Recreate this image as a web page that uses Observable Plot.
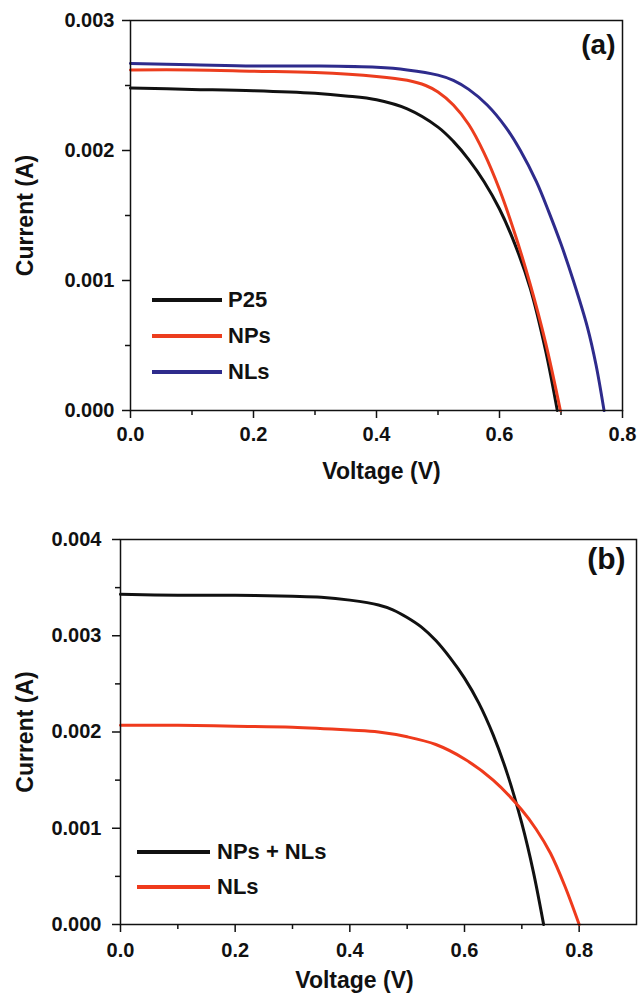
<!DOCTYPE html>
<html>
<head>
<meta charset="utf-8">
<script src="https://cdn.jsdelivr.net/npm/d3@7"></script>
<script src="https://cdn.jsdelivr.net/npm/@observablehq/plot@0.6"></script>
<style>
  html, body { margin: 0; padding: 0; background: #fff; }
  #wrap { position: relative; width: 638px; height: 993px; font-family: 'Liberation Sans', Arial, Helvetica, sans-serif; color: #111; }
  .panel { position: absolute; left: 0; }
  .legend { position: absolute; font-weight: bold; font-size: 22px; }
  .legend .row { display: flex; align-items: center; }
  .legend .sw { display: inline-block; height: 4px; }
</style>
</head>
<body>
<div id="wrap">
  <div id="pa" class="panel" style="top:0"></div>
  <div id="pb" class="panel" style="top:500px"></div>
</div>
<script>
// ---------- Panel (a) data ----------
const voltP25 = [0, 0.1, 0.2, 0.3, 0.35, 0.4, 0.45, 0.5, 0.525, 0.55, 0.575, 0.6, 0.625, 0.65, 0.675, 0.694];
const currP25 = [0.00248, 0.00247, 0.00246, 0.00244, 0.00242, 0.00239, 0.00232, 0.00218, 0.00207, 0.00193, 0.00176, 0.00155, 0.00128, 0.00094, 0.00046, 0];

const voltNPs = [0, 0.1, 0.2, 0.3, 0.4, 0.45, 0.48, 0.5, 0.525, 0.55, 0.575, 0.6, 0.625, 0.65, 0.675, 0.699];
const currNPs = [0.00262, 0.00262, 0.00261, 0.0026, 0.00257, 0.00254, 0.0025, 0.00245, 0.00235, 0.0022, 0.00198, 0.0017, 0.00136, 0.00097, 0.00052, 0];

const voltNLsA = [0, 0.1, 0.2, 0.3, 0.4, 0.45, 0.5, 0.525, 0.55, 0.58, 0.61, 0.634, 0.66, 0.68, 0.7, 0.72, 0.743, 0.757, 0.77];
const currNLsA = [0.00267, 0.00266, 0.00265, 0.00265, 0.00264, 0.00262, 0.00258, 0.00254, 0.00247, 0.00235, 0.00218, 0.002, 0.00176, 0.00153, 0.00128, 0.001, 0.00064, 0.00035, 0];

// ---------- Panel (b) data ----------
const voltMix = [0, 0.1, 0.2, 0.3, 0.35, 0.4, 0.45, 0.475, 0.5, 0.525, 0.55, 0.575, 0.6, 0.625, 0.65, 0.675, 0.7, 0.72, 0.738];
const currMix = [0.00343, 0.00342, 0.00342, 0.00341, 0.0034, 0.00337, 0.00332, 0.00327, 0.00319, 0.00309, 0.00295, 0.00277, 0.00256, 0.0023, 0.00197, 0.00156, 0.00105, 0.00055, 0];

const voltNLsB = [0, 0.1, 0.2, 0.3, 0.4, 0.45, 0.5, 0.55, 0.6, 0.65, 0.7, 0.725, 0.75, 0.775, 0.8];
const currNLsB = [0.00207, 0.00207, 0.00206, 0.00205, 0.00202, 0.002, 0.00195, 0.00187, 0.00172, 0.0015, 0.00119, 0.00099, 0.00074, 0.0004, 0];

// ---------- ticks, labels, colours ----------
const xTicksA = [0, 0.2, 0.4, 0.6, 0.8];
const xMinorA = [0.1, 0.3, 0.5, 0.7];
const yTicksA = [0, 0.001, 0.002, 0.003];
const yMinorA = [0.0005, 0.0015, 0.0025];
const xTicksB = [0, 0.2, 0.4, 0.6, 0.8];
const xMinorB = [0.1, 0.3, 0.5, 0.7];
const yTicksB = [0, 0.001, 0.002, 0.003, 0.004];
const yMinorB = [0.0005, 0.0015, 0.0025, 0.0035];

const namesA = ["P25", "NPs", "NLs"];
const colorsA = ["#111111", "#ec3d1e", "#2e2b8c"];
const namesB = ["NPs + NLs", "NLs"];
const colorsB = ["#111111", "#ef3a1c"];

const xLabel = "Voltage (V)";
const yLabel = "Current (A)";

const FONT = "'Liberation Sans', Arial, Helvetica, sans-serif";

function toRows(name, volts, currs) {
  return volts.map((v, i) => ({series: name, V: v, I: currs[i]}));
}

const dataA = [
  ...toRows("P25", voltP25, currP25),
  ...toRows("NPs", voltNPs, currNPs),
  ...toRows("NLs", voltNLsA, currNLsA)
];
const dataB = [
  ...toRows("NPs + NLs", voltMix, currMix),
  ...toRows("NLs", voltNLsB, currNLsB)
];

function makePanel(cfg) {
  return Plot.plot({
    width: 638,
    height: cfg.height,
    marginLeft: cfg.ml,
    marginRight: cfg.mr,
    marginTop: cfg.mt,
    marginBottom: cfg.mb,
    style: {fontFamily: FONT, fontWeight: "bold", color: "#111", background: "#fff", overflow: "visible"},
    x: {domain: cfg.xDomain},
    y: {domain: cfg.yDomain},
    color: {domain: cfg.names, range: cfg.colors},
    marks: [
      Plot.axisX(cfg.xMinor, {tickSize: 5, text: null, label: null, strokeWidth: 1.5}),
      Plot.axisY(cfg.yMinor, {tickSize: 5, text: null, label: null, strokeWidth: 1.5}),
      Plot.axisX(cfg.xTicks, {tickSize: 8, tickPadding: cfg.xPad, tickFormat: d3.format(".1f"), fontSize: 20, fontWeight: "bold", label: null, strokeWidth: 1.5}),
      Plot.axisY(cfg.yTicks, {tickSize: 8, tickPadding: cfg.yPad, tickFormat: d3.format(".3f"), fontSize: 20, fontWeight: "bold", label: null, strokeWidth: 1.5}),
      Plot.line(cfg.data, {x: "V", y: "I", z: "series", stroke: "series", strokeWidth: 3, curve: "catmull-rom"}),
      Plot.frame({stroke: "#111", strokeWidth: 1.5}),
      Plot.text([cfg.tag], {frameAnchor: "top-right", textAnchor: "end", lineAnchor: "top", dx: cfg.tagDx, dy: cfg.tagDy, fontSize: cfg.tagSize, fontWeight: "bold", fill: "#111"}),
      Plot.text([xLabel], {frameAnchor: "bottom", lineAnchor: "middle", dx: cfg.xlDx, dy: cfg.xlDy, fontSize: 23, fontWeight: "bold", fill: "#111"}),
      Plot.text([yLabel], {frameAnchor: "left", rotate: -90, lineAnchor: "middle", textAnchor: "middle", dx: cfg.ylDx, fontSize: 23, fontWeight: "bold", fill: "#111"})
    ]
  });
}

document.getElementById("pa").appendChild(makePanel({
  height: 500, ml: 130, mr: 16, mt: 20, mb: 90,
  xDomain: [0, 0.8], yDomain: [0, 0.003],
  xTicks: xTicksA, xMinor: xMinorA, yTicks: yTicksA, yMinor: yMinorA,
  xPad: 8, yPad: 8,
  names: namesA, colors: colorsA, data: dataA,
  tag: "(a)", tagDx: -7, tagDy: 14, tagSize: 28,
  xlDx: 5, xlDy: 61, ylDx: -105
}));

document.getElementById("pb").appendChild(makePanel({
  height: 493, ml: 120, mr: 2, mt: 39, mb: 69,
  xDomain: [0, 0.9], yDomain: [0, 0.004],
  xTicks: xTicksB, xMinor: xMinorB, yTicks: yTicksB, yMinor: yMinorB,
  xPad: 10, yPad: 11,
  names: namesB, colors: colorsB, data: dataB,
  tag: "(b)", tagDx: -11, tagDy: 8, tagSize: 30,
  xlDx: -24, xlDy: 56, ylDx: -95
}));

// ---------- legends (HTML overlays) ----------
function addLegend(names, colors, left, top, rowH, swW, gap) {
  const lg = document.createElement("div");
  lg.className = "legend";
  lg.style.left = left + "px";
  lg.style.top = top + "px";
  names.forEach((n, i) => {
    const row = document.createElement("div");
    row.className = "row";
    row.style.height = rowH + "px";
    const sw = document.createElement("span");
    sw.className = "sw";
    sw.style.width = swW + "px";
    sw.style.background = colors[i];
    sw.style.marginRight = gap + "px";
    const t = document.createElement("span");
    t.textContent = n;
    row.appendChild(sw);
    row.appendChild(t);
    lg.appendChild(row);
  });
  document.getElementById("wrap").appendChild(lg);
}
addLegend(namesA, colorsA, 152, 282, 36, 70, 6);
addLegend(namesB, colorsB, 137, 834, 35, 73, 7);
</script>
</body>
</html>
